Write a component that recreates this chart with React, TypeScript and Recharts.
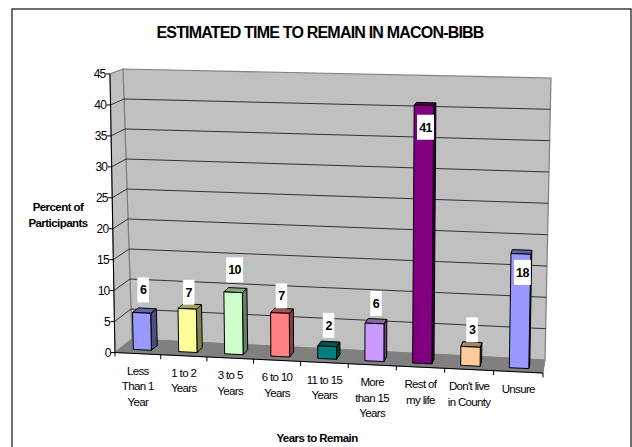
import React from "react";
import { BarChart, Bar, XAxis, YAxis, CartesianGrid, LabelList, ReferenceArea } from "recharts";

const categories = [
  "Less\nThan 1\nYear",
  "1 to 2\nYears",
  "3 to 5\nYears",
  "6 to 10\nYears",
  "11 to 15\nYears",
  "More\nthan 15\nYears",
  "Rest of\nmy life",
  "Don't live\nin County",
  "Unsure",
];
const percents = [6, 7, 10, 7, 2, 6, 41, 3, 18];
const valueTicks = [0, 5, 10, 15, 20, 25, 30, 35, 40, 45];
const barColors = ["#9999ff", "#ffff99", "#ccffcc", "#ff8080", "#008080", "#cc99ff", "#800080", "#ffcc99", "#9999ff"];
// how far each white label box sits from its bar top, as Excel left them
const labelNudge = [-23, -16.5, -22.5, -17, -21, -20, 22, -17, 18.5];

const data = categories.map((name, i) => ({ name, value: percents[i] }));

const W = 632;
const H = 447;
const PLOT = { left: 115, top: 74, right: 543, bottom: 352.5 };
const PW = PLOT.right - PLOT.left;
const PH = PLOT.bottom - PLOT.top;

// corners of the fake 3D box, the chart plane is bent onto these
const FRONT = { l0: [115, 352.5], l1: [110, 74], r0: [543, 373], r1: [548, 85] };
const BACK = { l0: [132, 339], l1: [123, 69], r0: [545, 360], r1: [551, 78] };
const BAR_D0 = 0.28;
const BAR_D1 = 0.65;

const mix = (a: number, b: number, t: number) => a + (b - a) * t;

function project(px: number, py: number, d: number) {
  const raw = (px - PLOT.left) / PW;
  const u = 0.957 * raw + 0.043 * raw * raw;
  const v = (PLOT.bottom - py) / PH;
  const onPlane = (q: typeof FRONT, k: number) =>
    mix(mix(q.l0[k], q.r0[k], u), mix(q.l1[k], q.r1[k], u), v);
  return [mix(onPlane(FRONT, 0), onPlane(BACK, 0), d), mix(onPlane(FRONT, 1), onPlane(BACK, 1), d)];
}

const pts = (list: number[][]) => list.map((p) => `${p[0].toFixed(1)},${p[1].toFixed(1)}`).join(" ");

function darken(hex: string, k: number) {
  const n = parseInt(hex.slice(1), 16);
  const c = [n >> 16, (n >> 8) & 255, n & 255].map((v) => Math.round(v * k));
  return `rgb(${c[0]},${c[1]},${c[2]})`;
}

function Walls() {
  const { left: l, right: r, top: t, bottom: b } = PLOT;
  return (
    <g>
      <polygon points={pts([project(l, b, 1), project(r, b, 1), project(r, t, 1), project(l, t, 1)])} fill="#c0c0c0" stroke="#808080" strokeWidth={1.2} />
      <polygon points={pts([project(l, b, 0), project(l, b, 1), project(l, t, 1), project(l, t, 0)])} fill="#c0c0c0" stroke="#808080" strokeWidth={1.2} />
      <polygon points={pts([project(l, b, 0), project(r, b, 0), project(r, b, 1), project(l, b, 1)])} fill="#808080" stroke="#808080" />
    </g>
  );
}

function GridLine(props: any) {
  const y = props.y1;
  if (y >= PLOT.bottom - 0.5 || y <= PLOT.top + 0.5) return <g />;
  return (
    <polyline
      points={pts([project(PLOT.left, y, 0), project(PLOT.left, y, 1), project(PLOT.right, y, 1)])}
      fill="none"
      stroke="#222"
      strokeWidth={0.9}
    />
  );
}

function Bar3D(props: any) {
  const { x, y, width, height, index } = props;
  const color = barColors[index];
  const x2 = x + width;
  const y2 = y + height;
  const a = project(x, y2, BAR_D0);
  const b = project(x2, y2, BAR_D0);
  const c = project(x2, y, BAR_D0);
  const e = project(x, y, BAR_D0);
  const f = project(x2, y2, BAR_D1);
  const g = project(x2, y, BAR_D1);
  const h = project(x, y, BAR_D1);
  const edge = { stroke: "#000", strokeWidth: 1, strokeLinejoin: "round" as const };
  return (
    <g>
      <polygon points={pts([b, f, g, c])} fill={darken(color, 0.5)} {...edge} />
      <polygon points={pts([e, c, g, h])} fill={darken(color, 0.65)} {...edge} />
      <polygon points={pts([a, b, c, e])} fill={color} {...edge} />
    </g>
  );
}

function BarTag(props: any) {
  const { x, y, width, index, value } = props;
  const top = project(x + width / 2, y, BAR_D0);
  const cy = top[1] + labelNudge[index];
  const bw = String(value).length > 1 ? 17 : 11.5;
  return (
    <g>
      <rect x={top[0] + 1.5 - bw / 2} y={cy - 12.5} width={bw} height={25} fill="#fff" />
      <text x={top[0] + 1.5} y={cy + 4.5} textAnchor="middle" fontFamily="Liberation Sans" fontSize={12.5} fontWeight="bold" letterSpacing={-0.6} fill="#000">
        {value}
      </text>
    </g>
  );
}

function ValueTick(props: any) {
  const { y, payload } = props;
  const p = project(PLOT.left, y, 0);
  return (
    <g>
      <line x1={p[0] - 4} y1={p[1]} x2={p[0]} y2={p[1]} stroke="#000" />
      <text x={p[0] - 4.5} y={p[1] + 4} textAnchor="end" fontFamily="Liberation Sans" fontSize={12} letterSpacing={-0.8} fill="#000">
        {payload.value}
      </text>
    </g>
  );
}

function CategoryTick(props: any) {
  const { x, payload, index } = props;
  const band = PW / categories.length;
  const c = project(x, PLOT.bottom, 0);
  const right = project(x + band / 2, PLOT.bottom, 0);
  const left = project(x - band / 2, PLOT.bottom, 0);
  return (
    <g>
      <line x1={right[0]} y1={right[1]} x2={right[0]} y2={right[1] + 4.5} stroke="#000" />
      {index === 0 && <line x1={left[0]} y1={left[1]} x2={left[0]} y2={left[1] + 4} stroke="#000" />}
      {String(payload.value).split("\n").map((line: string, i: number) => (
        <text key={i} x={c[0]} y={c[1] + 21 + i * 15.7} textAnchor="middle" fontFamily="Liberation Sans" fontSize={11.5} letterSpacing={-0.65} fill="#000">
          {line}
        </text>
      ))}
    </g>
  );
}

function AxisLines() {
  const { left: l, right: r, top: t, bottom: b } = PLOT;
  return (
    <polyline points={pts([project(l, t, 0), project(l, b, 0), project(r, b, 0)])} fill="none" stroke="#000" strokeWidth={1} />
  );
}

const labelFont = { fontFamily: "Liberation Sans", fontWeight: "bold" };

export default function App() {
  return (
    <div style={{ position: "absolute", left: 0, top: 0, width: W, height: H, background: "#fff" }}>
      <BarChart
        width={W}
        height={H}
        data={data}
        margin={{ left: 0, top: PLOT.top, right: W - PLOT.right, bottom: 0 }}
        barCategoryGap="30%"
      >
        <rect x={12} y={9} width={619} height={460} fill="none" stroke="#222" strokeWidth={1.3} />
        <ReferenceArea y1={0} y2={45} shape={Walls} zIndex={-200} />
        <CartesianGrid vertical={false} horizontal={GridLine} />
        <XAxis dataKey="name" interval={0} axisLine={false} tickLine={false} tick={CategoryTick} height={H - PLOT.bottom} />
        <YAxis domain={[0, 45]} ticks={valueTicks} axisLine={false} tickLine={false} tick={ValueTick} width={PLOT.left} />
        <Bar dataKey="value" shape={Bar3D} isAnimationActive={false}>
          <LabelList dataKey="value" content={BarTag} />
        </Bar>
        <AxisLines />
        <text x={320} y={38} textAnchor="middle" {...labelFont} fontSize={16} letterSpacing={-0.8} fill="#000">
          ESTIMATED TIME TO REMAIN IN MACON-BIBB
        </text>
        <text x={58} y={211} textAnchor="middle" {...labelFont} fontSize={11.5} letterSpacing={-0.55} fill="#000">
          Percent of
        </text>
        <text x={58} y={227} textAnchor="middle" {...labelFont} fontSize={11.5} letterSpacing={-0.55} fill="#000">
          Participants
        </text>
        <text x={317} y={442} textAnchor="middle" {...labelFont} fontSize={11.5} letterSpacing={-0.55} fill="#000">
          Years to Remain
        </text>
      </BarChart>
    </div>
  );
}
